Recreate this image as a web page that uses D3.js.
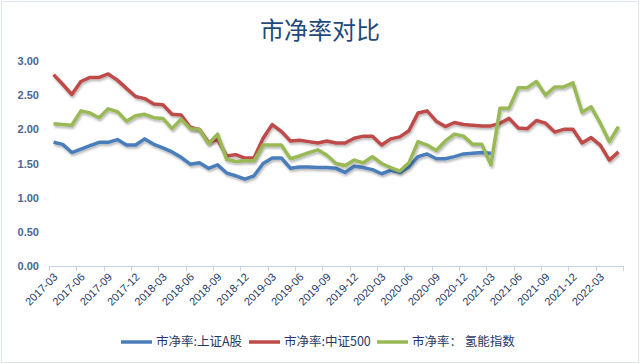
<!DOCTYPE html>
<html><head><meta charset="utf-8">
<script src="https://cdn.jsdelivr.net/npm/d3@7"></script>
<style>body{margin:0;background:#fff;}svg{display:block;}</style>
</head><body>
<svg id="c" width="640" height="364"></svg>
<script>
const months = [];
for (let y = 2017; y <= 2022; y++) for (let m = 1; m <= 12; m++) {
  if ((y === 2017 && m < 3) || (y === 2022 && m > 5)) continue;
  months.push(y + "-" + String(m).padStart(2, "0"));
}
const tickLabels = ["2017-03","2017-06","2017-09","2017-12","2018-03","2018-06","2018-09","2018-12","2019-03","2019-06","2019-09","2019-12","2020-03","2020-06","2020-09","2020-12","2021-03","2021-06","2021-09","2021-12","2022-03"];
const yTicks = [0, 0.5, 1, 1.5, 2, 2.5, 3];
const seriesNames = ["市净率:上证A股", "市净率:中证500", "市净率：氢能指数"];
const legendNames = ["市净率:上证A股", "市净率:中证500", "市净率： 氢能指数"];
const colors = ["#4A7EBB", "#BE4B48", "#98B954"];
const sse = [1.81,1.78,1.66,1.71,1.76,1.81,1.81,1.85,1.77,1.77,1.86,1.78,1.73,1.67,1.59,1.49,1.51,1.43,1.48,1.36,1.32,1.27,1.32,1.50,1.58,1.58,1.43,1.45,1.45,1.44,1.44,1.43,1.37,1.46,1.44,1.41,1.35,1.40,1.37,1.45,1.60,1.64,1.57,1.57,1.60,1.64,1.65,1.66,1.65,null,null,null,null,null,null,null,null,null,null,null,null,null,null];
const csi500 = [2.80,2.66,2.51,2.70,2.76,2.76,2.81,2.72,2.60,2.48,2.45,2.37,2.36,2.22,2.21,2.03,2.00,1.81,1.85,1.61,1.63,1.58,1.58,1.87,2.07,1.97,1.83,1.84,1.82,1.80,1.83,1.80,1.80,1.87,1.90,1.90,1.77,1.86,1.89,1.98,2.24,2.27,2.12,2.04,2.10,2.07,2.06,2.05,2.05,2.09,2.16,2.02,2.01,2.13,2.09,1.96,2.00,2.00,1.80,1.88,1.77,1.55,1.67];
const hydrogen = [2.08,2.07,2.06,2.27,2.24,2.17,2.30,2.26,2.12,2.20,2.22,2.17,2.16,2.01,2.15,2.01,2.00,1.79,1.93,1.56,1.53,1.54,1.54,1.77,1.77,1.77,1.57,1.61,1.66,1.70,1.62,1.50,1.47,1.55,1.51,1.60,1.50,1.44,1.39,1.51,1.82,1.77,1.69,1.83,1.93,1.90,1.78,1.78,1.48,2.31,2.31,2.61,2.61,2.70,2.50,2.62,2.62,2.68,2.25,2.33,2.09,1.82,2.04];
const allSeries = [sse, csi500, hydrogen];

const svg = d3.select("#c");
const x0 = 49, x1 = 623, yTop = 61, yBot = 266;

svg.append("rect").attr("x", 1.5).attr("y", 1.5).attr("width", 637).attr("height", 361)
  .attr("fill", "#fff").attr("stroke", "#DCE4EE").attr("stroke-width", 1);

const defs = svg.append("defs");
const f = defs.append("filter").attr("id", "sh").attr("x", "-10%").attr("y", "-10%").attr("width", "120%").attr("height", "130%");
f.append("feDropShadow").attr("dx", 1).attr("dy", 2).attr("stdDeviation", 1.2)
  .attr("flood-color", "#000").attr("flood-opacity", 0.28);

svg.append("text").attr("x", 320).attr("y", 39).attr("text-anchor", "middle")
  .attr("font-family", "'Noto Sans CJK SC', sans-serif").attr("font-size", 24)
  .attr("fill", "#1F497D").text("市净率对比");

const x = d3.scaleBand().domain(months).range([x0, x1]).padding(0);
const y = d3.scaleLinear().domain([0, 3]).range([yBot, yTop]);

const yAxis = d3.axisLeft(y).tickValues(yTicks).tickFormat(d3.format(".2f")).tickSize(0).tickPadding(0);
const gy = svg.append("g").attr("transform", "translate(39,0)").call(yAxis);
gy.select(".domain").remove();
gy.selectAll("text").attr("font-family", "'Liberation Sans', Arial, sans-serif")
  .attr("font-size", 11).attr("font-weight", "bold").attr("fill", "#4A6691");

const boundaries = d3.range(0, months.length + 1, 3).map(i => x0 + i * x.bandwidth());
const gx = svg.append("g");
gx.append("line").attr("x1", x0).attr("x2", x1).attr("y1", yBot + 0.5).attr("y2", yBot + 0.5)
  .attr("stroke", "#C6D4E8").attr("stroke-width", 1);
gx.selectAll("line.t").data(boundaries).join("line").attr("class", "t")
  .attr("x1", d => Math.round(d) + 0.5).attr("x2", d => Math.round(d) + 0.5)
  .attr("y1", yBot).attr("y2", yBot + 5).attr("stroke", "#C6D4E8");
gx.selectAll("text").data(tickLabels).join("text")
  .attr("transform", d => `translate(${x(d) + x.bandwidth() / 2 + 2},${yBot + 9}) rotate(-45)`)
  .attr("text-anchor", "end").attr("dy", "0.35em")
  .attr("font-family", "'Liberation Sans', Arial, sans-serif").attr("font-size", 11)
  .attr("fill", "#1F3864").text(d => d);

const line = d3.line().defined(d => d.v != null)
  .x(d => x(d.m) + x.bandwidth() / 2).y(d => y(d.v));
allSeries.forEach((s, k) => {
  svg.append("path").datum(months.map((m, i) => ({ m, v: s[i] })))
    .attr("d", line).attr("fill", "none").attr("stroke", colors[k])
    .attr("stroke-width", 3.5).attr("stroke-linejoin", "round").attr("filter", "url(#sh)");
});

const legX = [121, 249, 377];
const lg = svg.append("g");
legendNames.forEach((n, k) => {
  lg.append("line").attr("x1", legX[k]).attr("x2", legX[k] + 31).attr("y1", 342).attr("y2", 342)
    .attr("stroke", colors[k]).attr("stroke-width", 3.5);
  lg.append("text").attr("x", legX[k] + 35).attr("y", 342).attr("dy", "0.35em")
    .attr("font-family", "'Noto Sans CJK SC', sans-serif").attr("font-size", 12.5)
    .attr("fill", "#1F3864").text(n);
});
</script>
</body></html>
